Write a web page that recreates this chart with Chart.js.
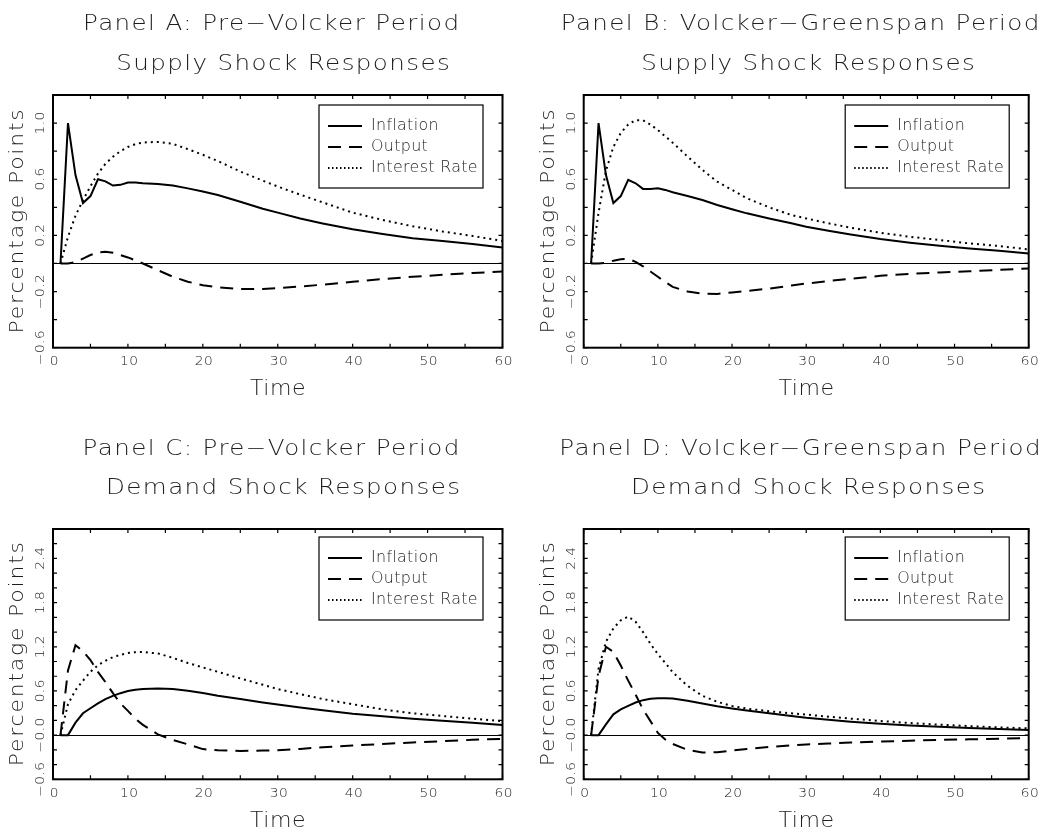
<!DOCTYPE html>
<html lang="en">
<head>
<meta charset="UTF-8">
<title>Impulse Responses: Supply and Demand Shocks</title>
<script src="https://cdn.jsdelivr.net/npm/chart.js"></script>
<style>
    body {
        margin: 0;
        background: #fff;
        width: 1045px;
        height: 836px;
        position: relative;
        overflow: hidden;
    }
    canvas {
        position: absolute;
    }
</style>
</head>
<body>

<canvas id="panelA" width="522" height="418" style="left:0;top:0"></canvas>
<canvas id="panelB" width="523" height="418" style="left:522px;top:0"></canvas>
<canvas id="panelC" width="522" height="418" style="left:0;top:418px"></canvas>
<canvas id="panelD" width="523" height="418" style="left:522px;top:418px"></canvas>

<script>
    const quarters = [1, 2, 3, 4, 5, 6, 7, 8, 9, 10, 11, 12, 14, 16, 18, 20, 22, 25, 28, 30, 33, 36, 40, 44, 48, 52, 56, 60];
    const seriesNames = ['Inflation', 'Output', 'Interest Rate'];

    // Panel A: pre-Volcker, supply shock
    const inflationA = [0, 1.0, 0.63, 0.43, 0.48, 0.60, 0.585, 0.555, 0.56, 0.577, 0.577, 0.571, 0.566, 0.556, 0.535, 0.512, 0.488, 0.44, 0.39, 0.362, 0.32, 0.285, 0.243, 0.21, 0.18, 0.16, 0.138, 0.114];
    const outputA = [0, 0, 0.01, 0.035, 0.06, 0.079, 0.083, 0.076, 0.06, 0.043, 0.022, 0, -0.048, -0.095, -0.13, -0.155, -0.17, -0.181, -0.182, -0.176, -0.164, -0.151, -0.13, -0.111, -0.095, -0.081, -0.068, -0.058];
    const interestA = [0, 0.19, 0.34, 0.45, 0.55, 0.64, 0.71, 0.76, 0.80, 0.83, 0.85, 0.862, 0.866, 0.852, 0.814, 0.774, 0.73, 0.655, 0.59, 0.548, 0.49, 0.435, 0.362, 0.31, 0.265, 0.228, 0.196, 0.16];

    // Panel B: Volcker-Greenspan, supply shock
    const inflationB = [0, 1.0, 0.63, 0.43, 0.48, 0.595, 0.571, 0.531, 0.531, 0.536, 0.524, 0.507, 0.48, 0.452, 0.417, 0.386, 0.357, 0.32, 0.286, 0.262, 0.233, 0.207, 0.174, 0.148, 0.126, 0.107, 0.09, 0.071];
    const outputB = [0, 0, 0.005, 0.02, 0.03, 0.033, 0.012, -0.02, -0.057, -0.095, -0.132, -0.167, -0.2, -0.214, -0.217, -0.207, -0.196, -0.179, -0.157, -0.143, -0.125, -0.109, -0.088, -0.074, -0.064, -0.056, -0.046, -0.036];
    const interestB = [0, 0.36, 0.66, 0.83, 0.93, 0.99, 1.02, 1.02, 0.99, 0.95, 0.905, 0.86, 0.762, 0.667, 0.583, 0.524, 0.464, 0.4, 0.345, 0.321, 0.286, 0.255, 0.219, 0.19, 0.167, 0.143, 0.124, 0.1];

    // Panel C: pre-Volcker, demand shock
    const inflationC = [0, 0, 0.17, 0.297, 0.365, 0.43, 0.49, 0.534, 0.57, 0.6, 0.616, 0.626, 0.635, 0.626, 0.603, 0.571, 0.534, 0.49, 0.443, 0.416, 0.374, 0.338, 0.292, 0.256, 0.224, 0.196, 0.169, 0.137];
    const outputC = [0, 0.88, 1.22, 1.14, 1.02, 0.86, 0.72, 0.57, 0.43, 0.33, 0.22, 0.14, 0.01, -0.065, -0.125, -0.19, -0.205, -0.215, -0.21, -0.205, -0.187, -0.164, -0.142, -0.12, -0.1, -0.082, -0.064, -0.05];
    const interestC = [0, 0.42, 0.61, 0.74, 0.86, 0.95, 1.01, 1.06, 1.09, 1.115, 1.127, 1.128, 1.11, 1.05, 0.98, 0.92, 0.86, 0.77, 0.685, 0.626, 0.557, 0.49, 0.42, 0.35, 0.297, 0.26, 0.224, 0.19];

    // Panel D: Volcker-Greenspan, demand shock
    const inflationD = [0, 0, 0.146, 0.283, 0.35, 0.397, 0.443, 0.475, 0.493, 0.502, 0.502, 0.498, 0.466, 0.43, 0.393, 0.361, 0.333, 0.297, 0.26, 0.237, 0.21, 0.183, 0.155, 0.132, 0.114, 0.096, 0.082, 0.068];
    const outputD = [0, 0.8, 1.2, 1.13, 0.945, 0.74, 0.55, 0.35, 0.19, 0.03, -0.06, -0.12, -0.2, -0.235, -0.233, -0.21, -0.187, -0.16, -0.14, -0.128, -0.114, -0.101, -0.087, -0.076, -0.065, -0.057, -0.048, -0.041];
    const interestD = [0, 0.9, 1.27, 1.45, 1.56, 1.61, 1.54, 1.4, 1.24, 1.1, 0.98, 0.854, 0.67, 0.534, 0.452, 0.397, 0.36, 0.324, 0.297, 0.279, 0.251, 0.224, 0.192, 0.164, 0.142, 0.123, 0.105, 0.091];

    // axis ticks
    const xTickValues = [0, 10, 20, 30, 40, 50, 60];
    const yTickValuesSupply = [-0.6, -0.2, 0.2, 0.6, 1.0];
    const yTickLabelsSupply = ['−0.6', '−0.2', '0.2', '0.6', '1.0'];
    const yTickValuesDemand = [-0.6, 0, 0.6, 1.2, 1.8, 2.4];
    const yTickLabelsDemand = ['−0.6', '−0.0', '0.6', '1.2', '1.8', '2.4'];

    const FONT = "'DejaVu Sans', sans-serif";
    const INK = '#1e1e1e';

    // centred text, optionally rotated and stretched sideways (the original uses a wide stroke font)
    function drawText(ctx, s, x, y, size, spacing, rotate, baseline, stretch) {
        ctx.save();
        ctx.font = '200 ' + size + 'px ' + FONT;
        ctx.letterSpacing = spacing + 'px';
        ctx.fillStyle = INK;
        ctx.textAlign = 'center';
        ctx.textBaseline = baseline || 'middle';
        ctx.translate(x, y);
        if (rotate) ctx.rotate(-Math.PI / 2);
        ctx.scale(stretch || 1, 1);
        ctx.fillText(s, spacing / 2, 0);
        ctx.restore();
    }

    function framePlugin(cfg) {
        return {
            id: 'frame',
            beforeDatasetsDraw(chart) {
                const { ctx, chartArea: a, scales: { y } } = chart;
                const y0 = Math.round(y.getPixelForValue(0)) + 0.5;
                ctx.save();
                ctx.strokeStyle = '#000';
                ctx.lineWidth = 1;
                ctx.beginPath();
                ctx.moveTo(a.left, y0);
                ctx.lineTo(a.right, y0);
                ctx.stroke();
                ctx.restore();
            },
            afterDraw(chart) {
                const { ctx, chartArea: a, scales: { x, y } } = chart;
                ctx.save();
                ctx.strokeStyle = '#000';

                // tick marks on all four sides, pointing inward
                ctx.lineWidth = 1.2;
                ctx.beginPath();
                for (let t = x.min; t <= x.max; t += 5) {
                    const px = x.getPixelForValue(t);
                    ctx.moveTo(px, a.bottom); ctx.lineTo(px, a.bottom - 4);
                    ctx.moveTo(px, a.top); ctx.lineTo(px, a.top + 4);
                }
                for (let k = 0; ; k++) {
                    const v = y.min + k * 0.2;
                    if (v > y.max + 1e-6) break;
                    const py = y.getPixelForValue(v);
                    ctx.moveTo(a.left, py); ctx.lineTo(a.left + 4, py);
                    ctx.moveTo(a.right, py); ctx.lineTo(a.right - 4, py);
                }
                ctx.stroke();

                // frame
                ctx.lineWidth = 2;
                ctx.strokeRect(a.left, a.top, a.right - a.left, a.bottom - a.top);

                // tick labels
                xTickValues.forEach(v => drawText(ctx, String(v), x.getPixelForValue(v) + 1, a.bottom + 14, 12.5, 0.4, false, 'middle', 1.1));
                cfg.yTicks.forEach((v, i) => drawText(ctx, cfg.yLabels[i], a.left - 12, y.getPixelForValue(v), 12.5, 0.4, true, 'middle', 1.1));

                // axis titles
                drawText(ctx, 'Time', (a.left + a.right) / 2, a.bottom + 42, 21, 0.5, false, 'middle', 1.05);
                drawText(ctx, 'Percentage Points', a.left - 35, (a.top + a.bottom) / 2, 19, 1.6, true, 'middle', 1.15);

                // panel titles
                drawText(ctx, cfg.title[0], cfg.titleX[0], cfg.titleY[0], 21, 1.2, false, 'alphabetic', 1.17);
                drawText(ctx, cfg.title[1], cfg.titleX[1], cfg.titleY[1], 21, 1.2, false, 'alphabetic', 1.17);

                // legend
                const lw = 164, lh = 83;
                const lx = a.right - 19.5 - lw, ly = a.top + cfg.legendTop;
                ctx.fillStyle = '#fff';
                ctx.fillRect(lx, ly, lw, lh);
                ctx.lineWidth = 1.2;
                ctx.strokeRect(lx, ly, lw, lh);
                chart.data.datasets.forEach((ds, i) => {
                    const ry = ly + 21 + i * 21;
                    ctx.save();
                    ctx.lineWidth = ds.borderWidth;
                    ctx.setLineDash(ds.legendDash);
                    ctx.beginPath();
                    ctx.moveTo(lx + 9, ry);
                    ctx.lineTo(lx + 43, ry);
                    ctx.stroke();
                    ctx.restore();
                    ctx.save();
                    ctx.font = '200 15px ' + FONT;
                    ctx.letterSpacing = '0.3px';
                    ctx.fillStyle = INK;
                    ctx.textBaseline = 'middle';
                    ctx.translate(lx + 52, ry);
                    ctx.scale(1.06, 1);
                    ctx.fillText(ds.label, 0, 0);
                    ctx.restore();
                });
                ctx.restore();
            }
        };
    }

    function points(values) {
        return quarters.map((q, i) => ({ x: q, y: values[i] }));
    }

    function makePanel(id, cfg) {
        new Chart(document.getElementById(id), {
            type: 'line',
            data: {
                datasets: [
                    { label: seriesNames[0], data: points(cfg.inflation), borderColor: '#000', borderWidth: 2, legendDash: [] },
                    { label: seriesNames[1], data: points(cfg.output), borderColor: '#000', borderWidth: 2, borderDash: [13, 8], legendDash: [13, 8] },
                    { label: seriesNames[2], data: points(cfg.interest), borderColor: '#000', borderWidth: 2, borderDash: [2, 4], legendDash: [1.5, 2.5] }
                ]
            },
            options: {
                responsive: false,
                animation: false,
                layout: { padding: cfg.padding },
                elements: { point: { radius: 0 }, line: { tension: 0 } },
                scales: {
                    x: { type: 'linear', min: 0, max: 60, display: false },
                    y: { type: 'linear', min: -0.6, max: cfg.yMax, display: false }
                },
                plugins: { legend: { display: false }, tooltip: { enabled: false } }
            },
            plugins: [framePlugin(cfg)]
        });
    }

    makePanel('panelA', {
        inflation: inflationA, output: outputA, interest: interestA,
        yMax: 1.2, yTicks: yTickValuesSupply, yLabels: yTickLabelsSupply,
        padding: { left: 53, right: 19.5, top: 95, bottom: 70.3 },
        title: ['Panel A: Pre−Volcker Period', 'Supply Shock Responses'],
        titleX: [271, 283], titleY: [30, 70], legendTop: 10
    });
    makePanel('panelB', {
        inflation: inflationB, output: outputB, interest: interestB,
        yMax: 1.2, yTicks: yTickValuesSupply, yLabels: yTickLabelsSupply,
        padding: { left: 61.7, right: 16.3, top: 95, bottom: 70.3 },
        title: ['Panel B: Volcker−Greenspan Period', 'Supply Shock Responses'],
        titleX: [278, 286], titleY: [30, 70], legendTop: 10
    });
    makePanel('panelC', {
        inflation: inflationC, output: outputC, interest: interestC,
        yMax: 2.8, yTicks: yTickValuesDemand, yLabels: yTickLabelsDemand,
        padding: { left: 53, right: 19.5, top: 111, bottom: 56.7 },
        title: ['Panel C: Pre−Volcker Period', 'Demand Shock Responses'],
        titleX: [271, 283], titleY: [37, 76], legendTop: 8
    });
    makePanel('panelD', {
        inflation: inflationD, output: outputD, interest: interestD,
        yMax: 2.8, yTicks: yTickValuesDemand, yLabels: yTickLabelsDemand,
        padding: { left: 61.7, right: 16.3, top: 111, bottom: 56.7 },
        title: ['Panel D: Volcker−Greenspan Period', 'Demand Shock Responses'],
        titleX: [278, 286], titleY: [37, 76], legendTop: 8
    });
</script>

</body>
</html>
